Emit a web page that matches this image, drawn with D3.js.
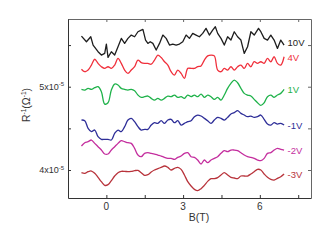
<!DOCTYPE html>
<html>
<head>
<meta charset="utf-8">
<script src="https://cdnjs.cloudflare.com/ajax/libs/d3/7.8.5/d3.min.js"></script>
<style>
  body { margin: 0; background: #fff; }
  text { font-family: "Liberation Sans", Arial, sans-serif; fill: #333; }
</style>
</head>
<body>
<script>
// field values B (T), shared by the smooth curves
var bGrid = [-0.974, -0.844, -0.714, -0.584, -0.455, -0.325, -0.195, -0.065, 0.065, 0.195,
  0.325, 0.455, 0.584, 0.714, 0.844, 0.974, 1.104, 1.234, 1.364, 1.494,
  1.623, 1.753, 1.883, 2.013, 2.143, 2.273, 2.403, 2.532, 2.662, 2.792,
  2.922, 3.052, 3.182, 3.312, 3.442, 3.571, 3.701, 3.831, 3.961, 4.091,
  4.221, 4.351, 4.481, 4.610, 4.740, 4.870, 5.000, 5.130, 5.260, 5.390,
  5.519, 5.649, 5.779, 5.909, 6.039, 6.169, 6.299, 6.429, 6.558, 6.688,
  6.818, 6.948];

// 10V is noisier, read on its own points
var bBlack = [-0.974, -0.779, -0.61, -0.519, -0.325, -0.195, -0.065, 0, 0.065, 0.195,
  0.325, 0.455, 0.584, 0.714, 0.844, 0.974, 1.104, 1.234, 1.364, 1.429,
  1.532, 1.623, 1.714, 1.818, 1.948, 2.078, 2.208, 2.338, 2.468, 2.597,
  2.727, 2.857, 2.987, 3.117, 3.247, 3.377, 3.506, 3.636, 3.766, 3.896,
  4.026, 4.156, 4.26, 4.351, 4.481, 4.61, 4.74, 4.87, 5.0, 5.13,
  5.26, 5.39, 5.52, 5.65, 5.78, 5.948, 6.039, 6.169, 6.299, 6.429,
  6.558, 6.688, 6.818, 6.948];
var r10V = [5.608, 5.54, 5.60, 5.50, 5.42, 5.38, 5.40, 5.512, 5.352, 5.42,
  5.38, 5.48, 5.58, 5.52, 5.58, 5.62, 5.60, 5.66, 5.68, 5.688,
  5.56, 5.52, 5.54, 5.52, 5.44, 5.52, 5.62, 5.58, 5.50, 5.512,
  5.50, 5.512, 5.54, 5.62, 5.58, 5.64, 5.62, 5.60, 5.64, 5.70,
  5.62, 5.68, 5.72, 5.64, 5.58, 5.50, 5.60, 5.56, 5.66, 5.60,
  5.56, 5.40, 5.48, 5.66, 5.62, 5.70, 5.66, 5.58, 5.56, 5.62,
  5.56, 5.46, 5.56, 5.50];

var r4V = [5.21, 5.18, 5.20, 5.26, 5.33, 5.28, 5.24, 5.22, 5.24, 5.22,
  5.26, 5.34, 5.28, 5.20, 5.16, 5.20, 5.24, 5.32, 5.29, 5.28,
  5.28, 5.27, 5.32, 5.38, 5.35, 5.30, 5.26, 5.18, 5.14, 5.20,
  5.16, 5.10, 5.22, 5.22, 5.22, 5.24, 5.25, 5.32, 5.37, 5.38,
  5.37, 5.20, 5.18, 5.22, 5.20, 5.24, 5.20, 5.24, 5.26, 5.22,
  5.28, 5.24, 5.30, 5.28, 5.30, 5.28, 5.34, 5.30, 5.36, 5.28,
  5.26, 5.36];

var r1V = [4.968, 4.96, 4.98, 4.968, 4.988, 5.00, 4.94, 4.792, 4.808, 4.96,
  5.032, 5.02, 4.98, 4.968, 4.96, 4.968, 4.952, 4.90, 4.872, 4.88,
  4.888, 4.86, 4.84, 4.86, 4.84, 4.86, 4.888, 4.88, 4.90, 4.872,
  4.88, 4.86, 4.90, 4.88, 4.90, 4.88, 4.912, 4.872, 4.90, 4.88,
  4.848, 4.872, 4.84, 4.90, 4.98, 5.04, 5.08, 5.048, 4.98, 4.92,
  4.90, 4.888, 4.848, 4.808, 4.776, 4.808, 4.88, 4.90, 4.872, 4.90,
  4.92, 4.968];

var rm1V = [4.60, 4.592, 4.50, 4.46, 4.48, 4.40, 4.368, 4.368, 4.368, 4.36,
  4.44, 4.48, 4.46, 4.52, 4.60, 4.62, 4.58, 4.52, 4.48, 4.488,
  4.488, 4.54, 4.568, 4.56, 4.592, 4.56, 4.60, 4.608, 4.568, 4.592,
  4.54, 4.56, 4.58, 4.592, 4.64, 4.66, 4.648, 4.62, 4.592, 4.56,
  4.60, 4.632, 4.62, 4.60, 4.632, 4.672, 4.688, 4.712, 4.68, 4.66,
  4.64, 4.648, 4.632, 4.64, 4.66, 4.608, 4.552, 4.54, 4.568, 4.552,
  4.56, 4.54];

var rm2V = [4.288, 4.328, 4.34, 4.36, 4.32, 4.28, 4.24, 4.192, 4.192, 4.24,
  4.28, 4.32, 4.352, 4.34, 4.328, 4.32, 4.26, 4.18, 4.16, 4.20,
  4.208, 4.20, 4.192, 4.18, 4.168, 4.152, 4.14, 4.14, 4.128, 4.152,
  4.168, 4.20, 4.208, 4.16, 4.152, 4.12, 4.072, 4.12, 4.088, 4.12,
  4.14, 4.16, 4.20, 4.232, 4.22, 4.24, 4.24, 4.232, 4.208, 4.18,
  4.16, 4.152, 4.14, 4.12, 4.112, 4.14, 4.20, 4.208, 4.24, 4.26,
  4.248, 4.24];

var rm3V = [3.968, 3.96, 3.98, 3.988, 3.96, 3.912, 3.86, 3.816, 3.824, 3.872,
  3.928, 3.968, 3.984, 3.984, 3.98, 3.984, 3.992, 3.996, 3.968, 3.936,
  3.944, 3.976, 4.00, 4.016, 4.032, 4.048, 4.032, 4.00, 4.02, 4.032,
  4.008, 3.94, 3.86, 3.808, 3.768, 3.752, 3.776, 3.816, 3.864, 3.896,
  3.896, 3.908, 3.94, 3.968, 3.94, 3.912, 3.904, 3.896, 3.928, 3.928,
  3.928, 3.952, 3.98, 4.008, 4.00, 3.952, 3.912, 3.888, 3.88, 3.90,
  3.92, 3.952];

var seriesLabels = ["10V", "4V", "1V", "-1V", "-2V", "-3V"];
var seriesColors = ["#1e1e1e", "#f0303c", "#1fb24a", "#2e2e98", "#c42e9e", "#b8333b"];

var xTicks = [-1.5, 0, 1.5, 3, 4.5, 6, 7.5];
var xTickLabels = [0, 3, 6];
var yTicks = [4, 4.5, 5, 5.5];
var yTickLabels = [4, 5];

var width = 332, height = 245;
var svg = d3.select("body").append("svg")
    .attr("width", width)
    .attr("height", height);

var x = d3.scaleLinear().domain([-1.5, 8]).range([68, 311]);
var y = d3.scaleLinear().domain([3.664, 5.813]).range([198, 19]);

// curves
var series = [
  { b: bBlack, r: r10V, curve: d3.curveLinear },
  { b: bGrid, r: r4V, curve: d3.curveCatmullRom },
  { b: bGrid, r: r1V, curve: d3.curveCatmullRom },
  { b: bGrid, r: rm1V, curve: d3.curveCatmullRom },
  { b: bGrid, r: rm2V, curve: d3.curveCatmullRom },
  { b: bGrid, r: rm3V, curve: d3.curveCatmullRom }
];

series.forEach(function (s, i) {
  var pts = s.b.map(function (b, j) { return [b, s.r[j]]; });
  var line = d3.line()
      .x(function (d) { return x(d[0]); })
      .y(function (d) { return y(d[1]); })
      .curve(s.curve);
  svg.append("path")
      .attr("d", line(pts))
      .attr("fill", "none")
      .attr("stroke", seriesColors[i])
      .attr("stroke-width", 1.3)
      .attr("stroke-linejoin", "round");

  var last = pts[pts.length - 1];
  svg.append("text")
      .attr("x", x(last[0]) + 3.5)
      .attr("y", y(last[1]))
      .attr("dy", i == 0 ? "0.05em" : "0.4em")
      .attr("font-size", "9.5px")
      .style("fill", seriesColors[i])
      .text(seriesLabels[i]);
});

// axes, ticks pointing inward on all four sides
function styleAxis(color) {
  return function (g) {
    g.selectAll("path, line").attr("stroke", color);
    g.selectAll("text").remove();
  };
}
svg.append("g").attr("transform", "translate(0,198)")
  .call(d3.axisBottom(x).tickValues(xTicks).tickSize(-3).tickSizeOuter(0)).call(styleAxis("#333"));
svg.append("g").attr("transform", "translate(0,19)")
  .call(d3.axisTop(x).tickValues(xTicks).tickSize(-3).tickSizeOuter(0)).call(styleAxis("#666"));
svg.append("g").attr("transform", "translate(68,0)")
  .call(d3.axisLeft(y).tickValues(yTicks).tickSize(-3).tickSizeOuter(0)).call(styleAxis("#333"));
svg.append("g").attr("transform", "translate(311,0)")
  .call(d3.axisRight(y).tickValues(yTicks).tickSize(-3).tickSizeOuter(0)).call(styleAxis("#666"));

// tick labels
svg.selectAll(".xl").data(xTickLabels).enter().append("text")
    .attr("x", function (d) { return x(d); })
    .attr("y", 210)
    .attr("text-anchor", "middle")
    .attr("font-size", "10px")
    .text(function (d) { return d; });

yTickLabels.forEach(function (d) {
  var t = svg.append("text")
      .attr("x", 64)
      .attr("y", y(d) + 3)
      .attr("text-anchor", "end")
      .attr("font-size", "9px");
  t.append("tspan").text(d + "x10");
  t.append("tspan").attr("dy", -3.5).attr("font-size", "6px").text("-5");
});

// axis titles
svg.append("text")
    .attr("x", 199)
    .attr("y", 221)
    .attr("text-anchor", "middle")
    .attr("font-size", "10.5px")
    .text("B(T)");

var yt = svg.append("text")
    .attr("transform", "translate(30,105) rotate(-90)")
    .attr("text-anchor", "middle")
    .attr("font-size", "10.5px");
yt.append("tspan").text("R");
yt.append("tspan").attr("dy", -4).attr("font-size", "6.5px").text("-1");
yt.append("tspan").attr("dy", 4).text("(Ω");
yt.append("tspan").attr("dy", -4).attr("font-size", "6.5px").text("-1");
yt.append("tspan").attr("dy", 4).text(")");
</script>
</body>
</html>
